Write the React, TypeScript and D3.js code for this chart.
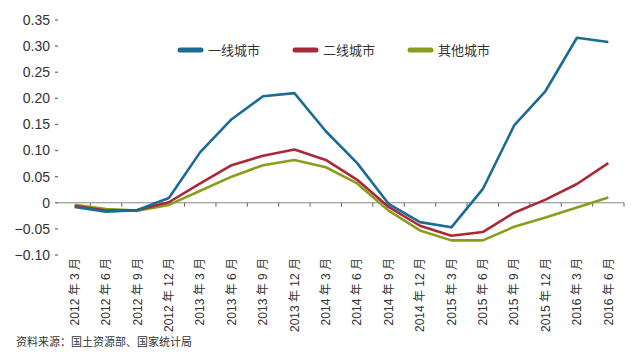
import { useRef, useEffect } from 'react';
import * as d3 from 'd3';

const categories = [
  '2012 年 3 月', '2012 年 6 月', '2012 年 9 月', '2012 年 12 月',
  '2013 年 3 月', '2013 年 6 月', '2013 年 9 月', '2013 年 12 月',
  '2014 年 3 月', '2014 年 6 月', '2014 年 9 月', '2014 年 12 月',
  '2015 年 3 月', '2015 年 6 月', '2015 年 9 月', '2015 年 12 月',
  '2016 年 3 月', '2016 年 6 月',
];

const tier1 = [-0.008, -0.017, -0.014, 0.009, 0.097, 0.16, 0.204, 0.21, 0.137, 0.076, -0.002, -0.037, -0.047, 0.026, 0.148, 0.214, 0.316, 0.308];
const tier2 = [-0.006, -0.015, -0.014, 0.001, 0.037, 0.072, 0.09, 0.102, 0.082, 0.044, -0.008, -0.044, -0.063, -0.056, -0.019, 0.006, 0.036, 0.076];
const others = [-0.004, -0.012, -0.015, -0.004, 0.023, 0.05, 0.072, 0.082, 0.068, 0.037, -0.015, -0.053, -0.072, -0.072, -0.046, -0.028, -0.009, 0.01];

const seriesNames = ['一线城市', '二线城市', '其他城市'];
const seriesColors = ['#1c6b93', '#a9283a', '#8c9c1c'];
const yTicks = [0.35, 0.3, 0.25, 0.2, 0.15, 0.1, 0.05, 0, -0.05, -0.1];
const source = '资料来源：国土资源部、国家统计局';

export default function App() {
  const ref = useRef<HTMLDivElement>(null);

  useEffect(() => {
    if (!ref.current) return;
    const width = 638;
    const height = 361;
    const font = '"Liberation Sans", Arial, "Noto Sans CJK SC", sans-serif';

    d3.select(ref.current).selectAll('*').remove();

    const svg = d3.select(ref.current)
      .append('svg')
      .attr('width', width)
      .attr('height', height)
      .style('display', 'block')
      .style('background', '#fff');

    const x = d3.scaleBand().domain(categories).range([59, 624]);
    const y = d3.scaleLinear().domain([-0.1, 0.35]).range([255, 20]);

    // y tick labels + little tick marks
    const fmt = (v: number) => (v === 0 ? '0' : d3.format('.2f')(v).replace('-', '−'));
    yTicks.forEach((t) => {
      svg.append('line')
        .attr('x1', 55).attr('x2', 58)
        .attr('y1', y(t)).attr('y2', y(t))
        .attr('stroke', '#666').attr('stroke-width', 1.2);
      svg.append('text')
        .attr('x', 50).attr('y', y(t)).attr('dy', '0.35em')
        .attr('text-anchor', 'end')
        .style('font-family', font).style('font-size', '14px').style('fill', '#333')
        .text(fmt(t));
    });

    // zero line with category ticks
    svg.append('line')
      .attr('x1', 56).attr('x2', 624)
      .attr('y1', y(0)).attr('y2', y(0))
      .attr('stroke', '#888').attr('stroke-width', 1);
    categories.forEach((c, i) => {
      if (i === 0) return;
      svg.append('line')
        .attr('x1', x(c)!).attr('x2', x(c)!)
        .attr('y1', y(0)).attr('y2', y(0) + 4)
        .attr('stroke', '#666').attr('stroke-width', 1);
    });
    svg.append('line')
      .attr('x1', 624).attr('x2', 624)
      .attr('y1', y(0)).attr('y2', y(0) + 4)
      .attr('stroke', '#666').attr('stroke-width', 1);

    // lines
    const cx = (c: string) => x(c)! + x.bandwidth() / 2;
    const line = d3.line<number>().x((_, i) => cx(categories[i])).y((d) => y(d));
    [others, tier2, tier1].forEach((s, k) => {
      svg.append('path')
        .attr('d', line(s))
        .attr('fill', 'none')
        .attr('stroke', seriesColors[2 - k])
        .attr('stroke-width', 2.6)
        .attr('stroke-linejoin', 'round');
    });

    // x labels (rotated)
    categories.forEach((c) => {
      svg.append('text')
        .attr('transform', `translate(${cx(c)},258) rotate(-90)`)
        .attr('dy', '0.35em')
        .attr('text-anchor', 'end')
        .style('font-family', font).style('font-size', '12px').style('fill', '#333')
        .text(c);
    });

    // legend
    const legendX = [177, 292, 407];
    seriesNames.forEach((n, i) => {
      svg.append('line')
        .attr('x1', legendX[i] + 3).attr('x2', legendX[i] + 24)
        .attr('y1', 50).attr('y2', 50)
        .attr('stroke', seriesColors[i]).attr('stroke-width', 5)
        .attr('stroke-linecap', 'round');
      svg.append('text')
        .attr('x', legendX[i] + 31).attr('y', 50).attr('dy', '0.36em')
        .style('font-family', font).style('font-size', '13px').style('fill', '#333')
        .text(n);
    });

    svg.append('text')
      .attr('x', 16).attr('y', 346)
      .style('font-family', font).style('font-size', '11px').style('fill', '#333')
      .text(source);
  }, []);

  return <div ref={ref} style={{ position: 'fixed', left: 0, top: 0 }} />;
}
